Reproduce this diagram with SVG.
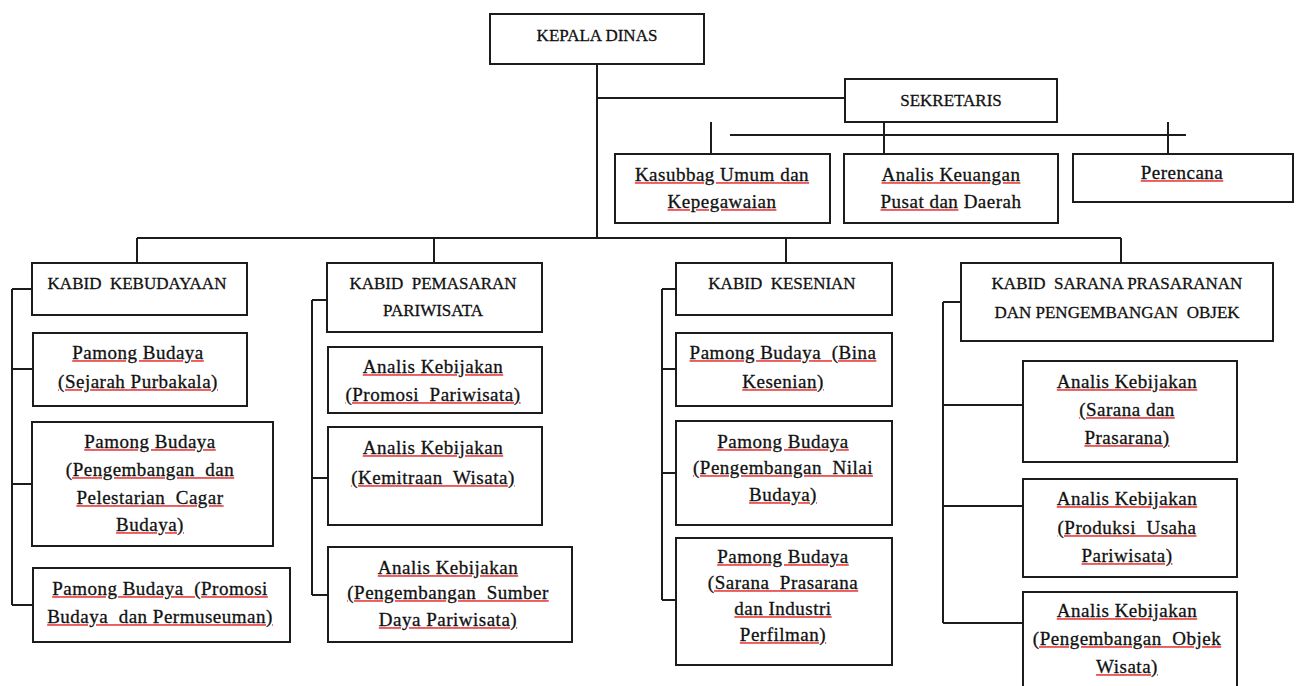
<svg xmlns="http://www.w3.org/2000/svg" width="1296" height="686" viewBox="0 0 1296 686">
<style>
.box{fill:#fff;stroke:#1c1c1c;stroke-width:2}
.ln{fill:none;stroke:#1c1c1c;stroke-width:2}
.cap{font-family:"Liberation Serif",serif;font-size:17px;text-anchor:middle;fill:#111;stroke:#111;stroke-width:0.3}
.t{font-family:"Liberation Serif",serif;font-size:19px;letter-spacing:0.5px;text-anchor:middle;fill:#ec5a5a;text-decoration:underline}
.t tspan,.p{fill:#111;stroke:#111;stroke-width:0.3}
.u{fill:#ec5a5a;stroke:none;text-decoration:underline}
</style>
<rect width="1296" height="686" fill="#fff"/>
<g id="connectors">
<path class="ln" d="M597 64V238M597 98H845M884 122V154M711 122V154M730 135H1186M1168 122V154"/>
<path class="ln" d="M137 238H1121M137 238V263M434 238V263M786 238V263M1121 238V263"/>
<path class="ln" d="M12 289V605M12 289H32M12 369H33M12 484H32M12 605H33"/>
<path class="ln" d="M312 300V595M312 300H327M312 478H328M312 595H328"/>
<path class="ln" d="M662 289V600M662 289H676M662 369H676M662 473H676M662 600H676"/>
<path class="ln" d="M943 302V623M943 302H961M943 405H1023M943 506H1023M943 623H1023"/>
</g>
<g id="kepala-dinas"><rect class="box" x="490" y="14" width="214" height="50"/><text class="cap" x="597" y="41">KEPALA DINAS</text></g>
<g id="sekretaris"><rect class="box" x="845" y="79" width="212" height="43"/><text class="cap" x="951" y="106">SEKRETARIS</text></g>
<g id="kasubbag"><rect class="box" x="615" y="154" width="215" height="69"/><text class="t" x="722" y="181"><tspan>Kasubbag Umum dan</tspan></text><text class="t" x="722" y="208"><tspan>Kepegawaian</tspan></text></g>
<g id="analis-keuangan"><rect class="box" x="844" y="154" width="214" height="69"/><text class="t" x="951" y="181"><tspan>Analis Keuangan</tspan></text><text class="cap" style="font-size:19px;letter-spacing:0.5px" x="951" y="208"><tspan class="u"><tspan class="p">Pusat dan</tspan></tspan> Daerah</text></g>
<g id="perencana"><rect class="box" x="1073" y="154" width="220" height="48"/><text class="t" x="1182" y="179"><tspan>Perencana</tspan></text></g>

<g id="kabid-kebudayaan"><rect class="box" x="32" y="263" width="215" height="52"/><text class="cap" x="137" y="289">KABID&#160; KEBUDAYAAN</text></g>
<g id="pb-sejarah"><rect class="box" x="33" y="333" width="214" height="73"/><text class="t" x="138" y="359"><tspan>Pamong Budaya</tspan></text><text class="t" x="138" y="388"><tspan>(Sejarah Purbakala)</tspan></text></g>
<g id="pb-cagar"><rect class="box" x="32" y="422" width="241" height="124"/><text class="t" x="150" y="448"><tspan>Pamong Budaya</tspan></text><text class="t" x="150" y="476"><tspan>(Pengembangan&#160; dan</tspan></text><text class="t" x="150" y="504"><tspan>Pelestarian&#160; Cagar</tspan></text><text class="t" x="150" y="531"><tspan>Budaya)</tspan></text></g>
<g id="pb-promosi"><rect class="box" x="33" y="568" width="257" height="74"/><text class="t" x="160" y="595"><tspan>Pamong Budaya&#160; (Promosi</tspan></text><text class="t" x="160" y="623"><tspan>Budaya&#160; dan Permuseuman)</tspan></text></g>

<g id="kabid-pemasaran"><rect class="box" x="327" y="263" width="215" height="69"/><text class="cap" x="433" y="289">KABID&#160; PEMASARAN</text><text class="cap" x="433" y="316">PARIWISATA</text></g>
<g id="ak-promosi"><rect class="box" x="328" y="347" width="214" height="66"/><text class="t" x="433" y="373"><tspan>Analis Kebijakan</tspan></text><text class="t" x="433" y="401"><tspan>(Promosi&#160; Pariwisata)</tspan></text></g>
<g id="ak-kemitraan"><rect class="box" x="328" y="427" width="214" height="98"/><text class="t" x="433" y="454"><tspan>Analis Kebijakan</tspan></text><text class="t" x="433" y="484"><tspan>(Kemitraan&#160; Wisata)</tspan></text></g>
<g id="ak-sumber-daya"><rect class="box" x="328" y="547" width="244" height="95"/><text class="t" x="448" y="574"><tspan>Analis Kebijakan</tspan></text><text class="t" x="448" y="599"><tspan>(Pengembangan&#160; Sumber</tspan></text><text class="t" x="448" y="626"><tspan>Daya Pariwisata)</tspan></text></g>

<g id="kabid-kesenian"><rect class="box" x="676" y="263" width="216" height="52"/><text class="cap" x="782" y="289">KABID&#160; KESENIAN</text></g>
<g id="pb-bina"><rect class="box" x="676" y="333" width="216" height="73"/><text class="t" x="783" y="359"><tspan>Pamong Budaya&#160; (Bina</tspan></text><text class="t" x="783" y="388"><tspan>Kesenian)</tspan></text></g>
<g id="pb-nilai"><rect class="box" x="676" y="421" width="216" height="104"/><text class="t" x="783" y="448"><tspan>Pamong Budaya</tspan></text><text class="t" x="783" y="474"><tspan>(Pengembangan&#160; Nilai</tspan></text><text class="t" x="783" y="501"><tspan>Budaya)</tspan></text></g>
<g id="pb-perfilman"><rect class="box" x="676" y="538" width="216" height="127"/><text class="t" x="783" y="563"><tspan>Pamong Budaya</tspan></text><text class="t" x="783" y="589"><tspan>(Sarana&#160; Prasarana</tspan></text><text class="t" x="783" y="615"><tspan>dan Industri</tspan></text><text class="t" x="783" y="641"><tspan>Perfilman)</tspan></text></g>

<g id="kabid-sarana"><rect class="box" x="961" y="263" width="312" height="78"/><text class="cap" x="1117" y="289">KABID&#160; SARANA PRASARANAN</text><text class="cap" x="1117" y="318">DAN PENGEMBANGAN&#160; OBJEK</text></g>
<g id="ak-sarana"><rect class="box" x="1023" y="361" width="214" height="101"/><text class="t" x="1127" y="388"><tspan>Analis Kebijakan</tspan></text><text class="t" x="1127" y="416"><tspan>(Sarana dan</tspan></text><text class="t" x="1127" y="444"><tspan>Prasarana)</tspan></text></g>
<g id="ak-produksi"><rect class="box" x="1023" y="479" width="214" height="98"/><text class="t" x="1127" y="505"><tspan>Analis Kebijakan</tspan></text><text class="t" x="1127" y="534"><tspan>(Produksi&#160; Usaha</tspan></text><text class="t" x="1127" y="562"><tspan>Pariwisata)</tspan></text></g>
<g id="ak-objek"><rect class="box" x="1023" y="592" width="214" height="100"/><text class="t" x="1127" y="617"><tspan>Analis Kebijakan</tspan></text><text class="t" x="1127" y="645"><tspan>(Pengembangan&#160; Objek</tspan></text><text class="t" x="1127" y="673"><tspan>Wisata)</tspan></text></g>
</svg>
